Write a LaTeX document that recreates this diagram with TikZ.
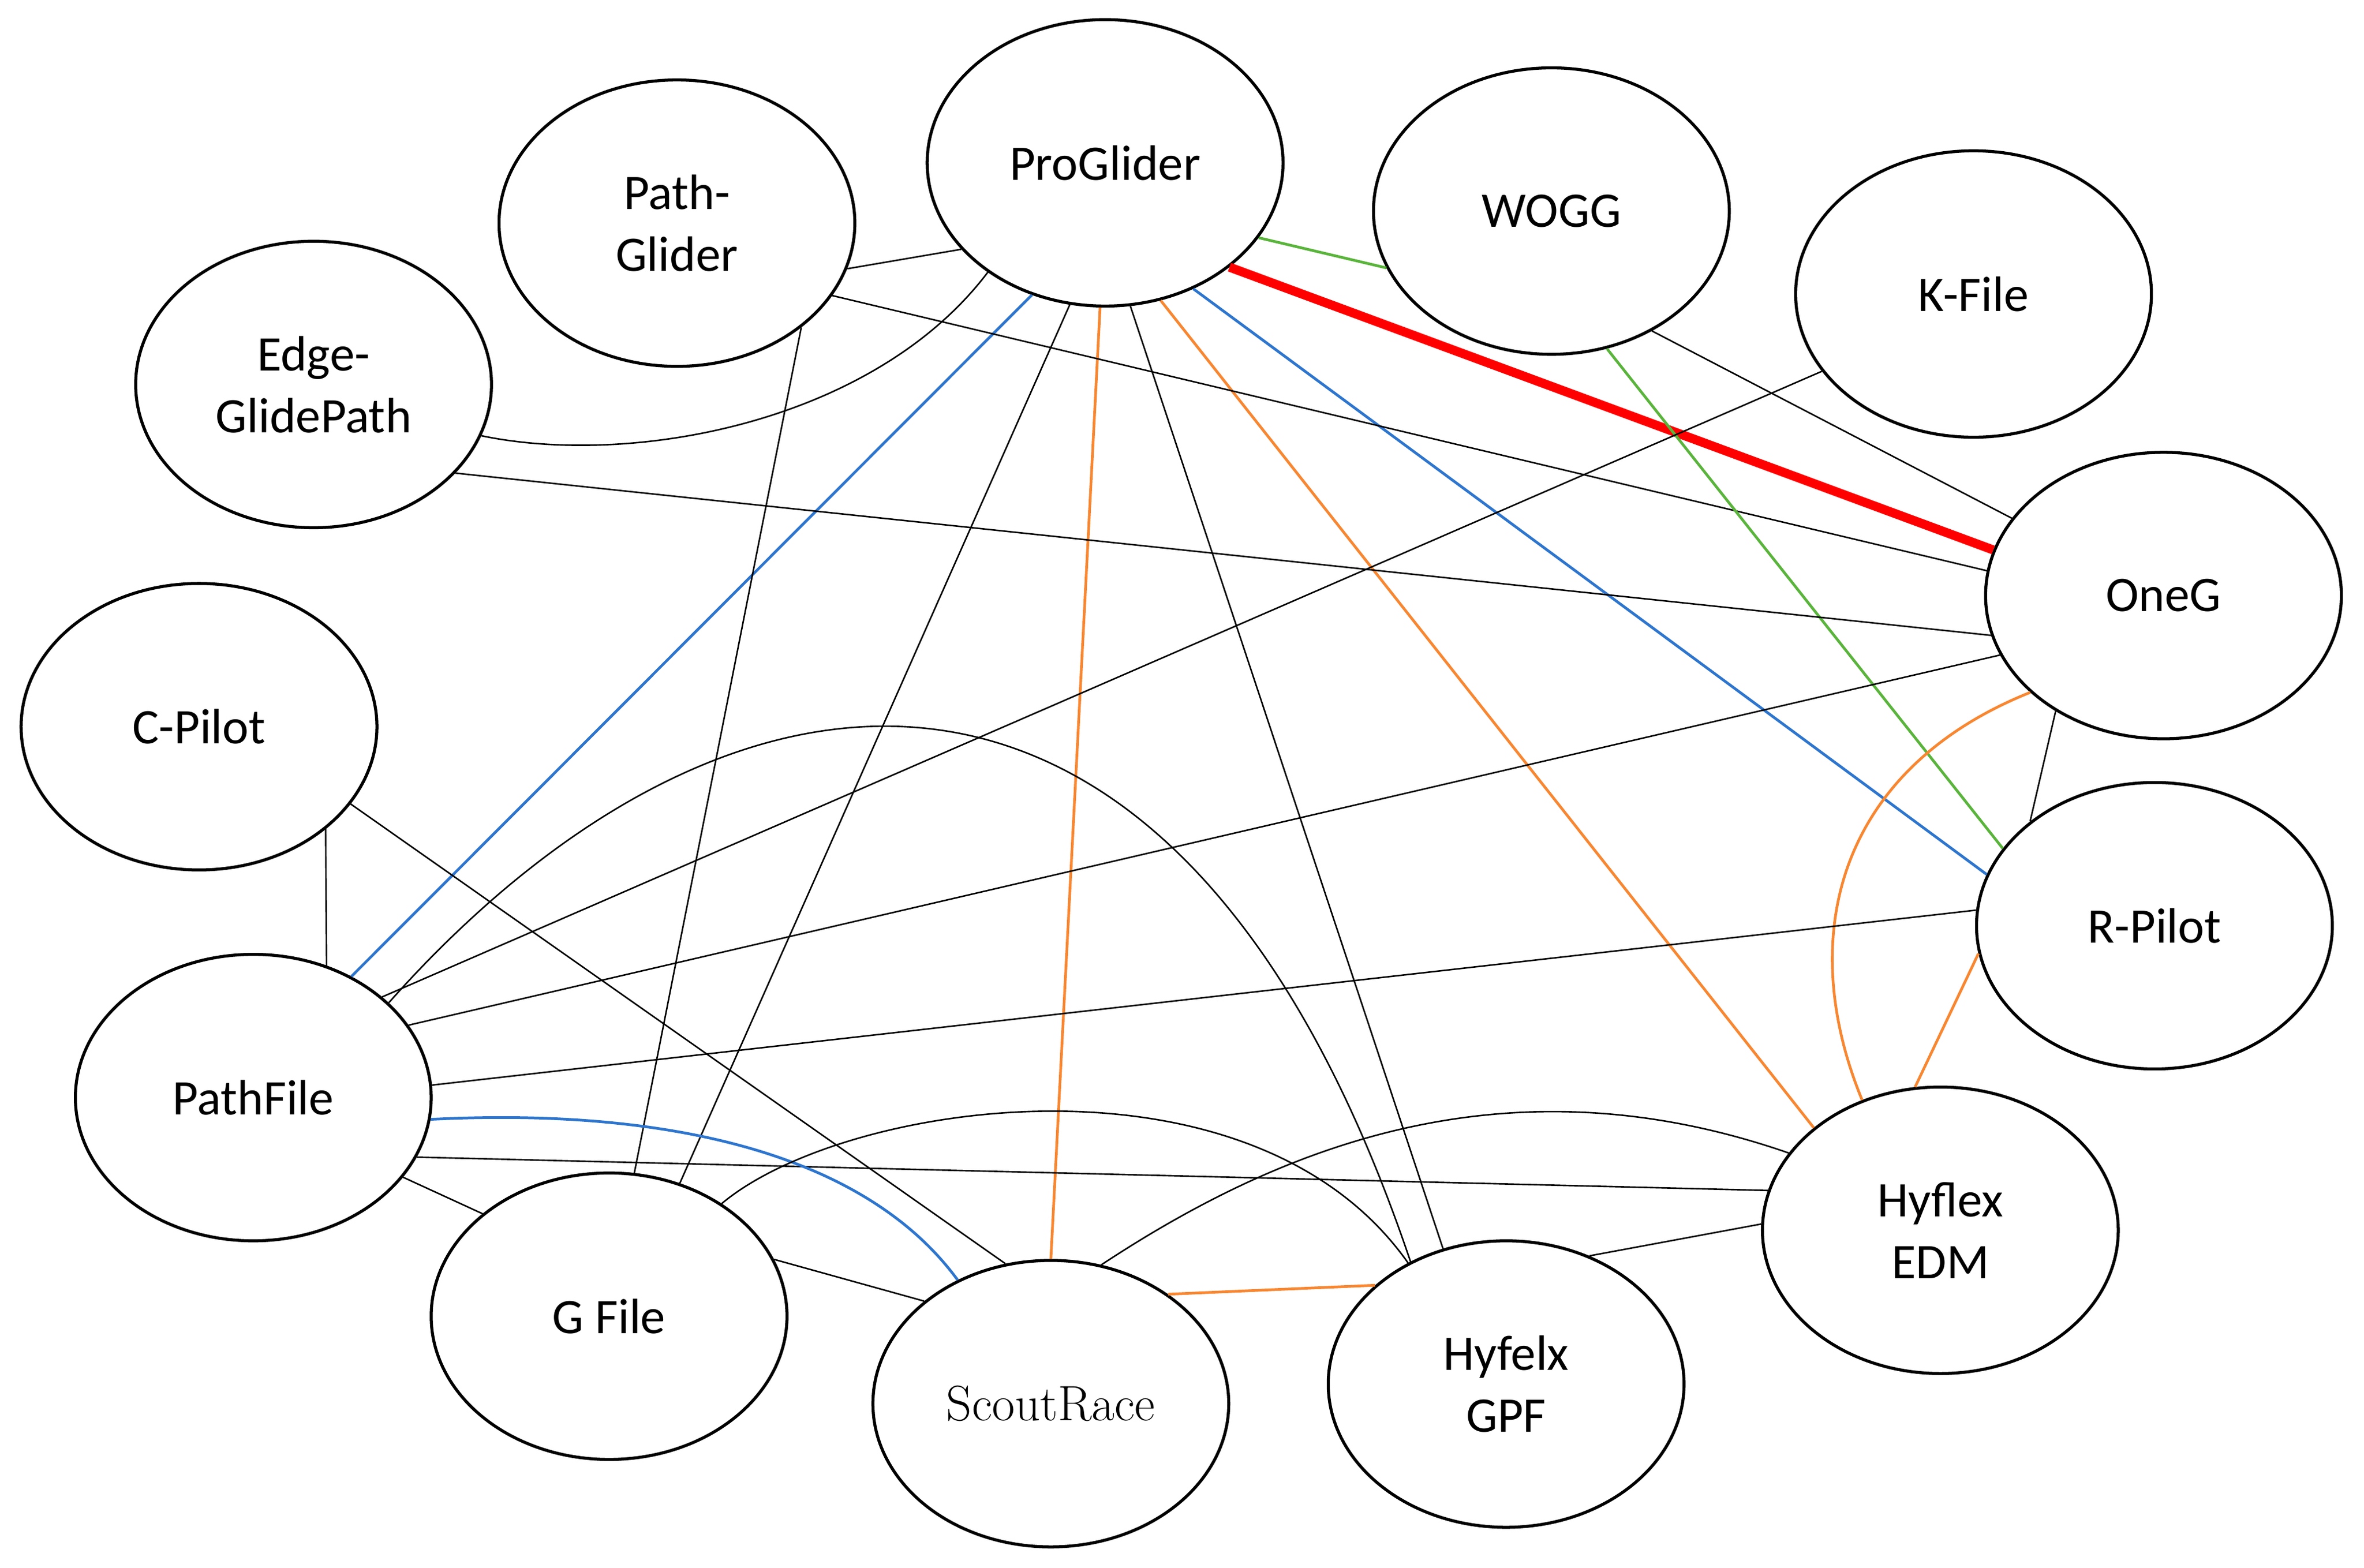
\documentclass[tikz,border=0pt]{standalone}
\usepackage{fontspec}
\setmainfont{Carlito}
\newfontfamily\serifface{Latin Modern Roman}
\usetikzlibrary{shapes.geometric}
\definecolor{eblue}{RGB}{46,117,205}
\definecolor{eorange}{RGB}{247,135,50}
\definecolor{egreen}{RGB}{90,180,60}
\begin{document}
\begin{tikzpicture}[x=0.5pt,y=-0.5pt,
  el/.style={ellipse,draw,line width=1pt,fill=white,minimum width=118pt,minimum height=95pt,inner sep=0pt,align=center,font=\fontsize{16.5}{20.5}\selectfont},
  bl/.style={line width=0.5pt,black},
  bu/.style={line width=0.9pt,eblue},
  orr/.style={line width=0.9pt,eorange},
  gr/.style={line width=0.9pt,egreen},
  rd/.style={line width=3pt,red}]
\useasboundingbox (0,0) rectangle (1568,1040);
\node[el] (pg) at (733,108) {ProGlider};
\node[el] (pgl) at (449,148) {Path-\\Glider};
\node[el] (wogg) at (1029,140) {WOGG};
\node[el] (kf) at (1309,195) {K-File};
\node[el] (egp) at (208,255) {Edge-\\GlidePath};
\node[el] (oneg) at (1435,395) {OneG};
\node[el] (cp) at (132,482) {C-Pilot};
\node[el] (rp) at (1429,614) {R-Pilot};
\node[el] (pf) at (168,728) {PathFile};
\node[el] (edm) at (1287,816) {Hyflex\\EDM};
\node[el] (gf) at (404,873) {G File};
\node[el] (sr) at (697,931) {\serifface\fontsize{16.5}{20}\selectfont ScoutRace};
\node[el] (gpf) at (999,918) {Hyfelx\\GPF};

\draw[bl] (pg.-149) -- (pgl.-15);
\draw[gr] (pg.-26) -- (wogg.-161);
\draw[rd] (pg.-40) -- (oneg.165);
\draw[bl] (pg.-137) .. controls (580,280) and (420,310) .. (egp.-17);
\draw[bu] (pg.-119) -- (pf.51);
\draw[orr] (pg.-92) -- (sr.90);
\draw[bl] (pg.-104) -- (gf.62);
\draw[bl] (pg.-80) -- (gpf.115);
\draw[orr] (pg.-68) -- (edm.141);
\draw[bu] (pg.-55) -- (rp.163);
\draw[bl] (pgl.-25) -- (oneg.172);
\draw[bl] (pgl.-40) -- (gf.80);
\draw[gr] (wogg.-68) -- (rp.153);
\draw[bl] (wogg.-50) -- (oneg.153);
\draw[bl] (kf.-153) -- (pf.38);
\draw[bl] (egp.-32) -- (oneg.-167);
\draw[bl] (oneg.-160) -- (pf.25);
\draw[bl] (oneg.-133) -- (rp.140);
\draw[orr] (oneg.-144) .. controls (1220,510) and (1190,620) .. (edm.121);
\draw[orr] (rp.-171) -- (edm.100);
\draw[bl] (rp.175) -- (pf.4);
\draw[bl] (cp.-39) -- (pf.61);
\draw[bl] (cp.-27) -- (sr.108);
\draw[bl] (pf.35) .. controls (480,415) and (780,375) .. (gpf.128);
\draw[bl] (pf.-20) -- (edm.167);
\draw[bu] (pf.-7) .. controls (430,735) and (570,760) .. (sr.127);
\draw[bl] (pf.-28) -- (gf.141);
\draw[bl] (gf.19) -- (sr.141);
\draw[bl] (gf.45) .. controls (560,730) and (830,690) .. (gpf.129);
\draw[bl] (sr.70) .. controls (850,760) and (1000,700) .. (edm.153);
\draw[orr] (sr.43) -- (gpf.143);
\draw[bl] (gpf.57) -- (edm.178);
\end{tikzpicture}
\end{document}
